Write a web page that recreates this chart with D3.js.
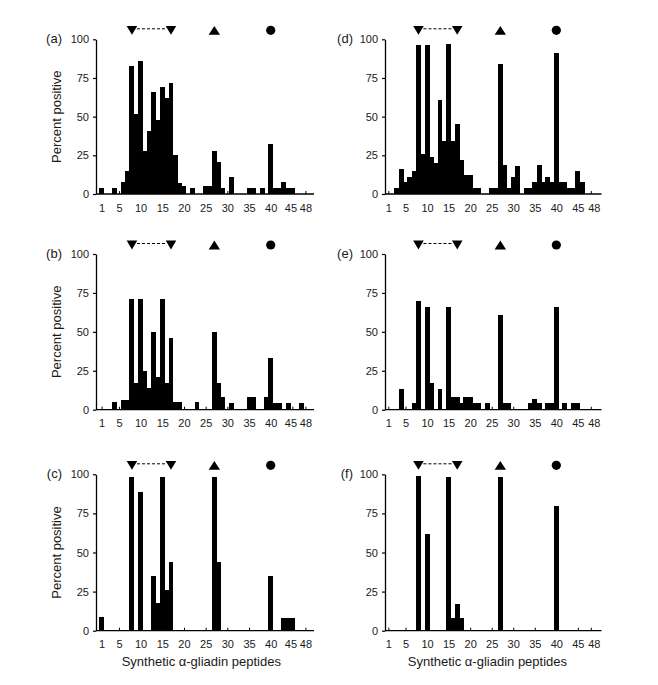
<!DOCTYPE html>
<html>
<head>
<meta charset="utf-8">
<script src="https://cdn.jsdelivr.net/npm/d3@7"></script>
<style>
  html, body { margin: 0; padding: 0; background: #fff; }
  svg { display: block; font-family: "Liberation Sans", Arial, Helvetica, sans-serif; }
  .tick text { fill: #1a1a1a; }
</style>
</head>
<body>
<svg id="chart" width="658" height="685"></svg>
<script>
// ---------- DATA ----------
const peptides = d3.range(1, 49);
const xTickValues = [1, 5, 10, 15, 20, 25, 30, 35, 40, 45, 48];
const yTickValues = [0, 25, 50, 75, 100];
const panelLabels = ["(a)", "(b)", "(c)", "(d)", "(e)", "(f)"];
const yTitle = "Percent positive";
const xTitle = "Synthetic α-gliadin peptides";
const markerDown = [8, 17];
const markerUp = [27];
const markerCircle = [40];

const valuesA = [4,0,0,4,0,8,15,83,52,86,28,41,66,48,69,62,72,25,7,5,0,4,0,0,5,5,28,21,4,0,11,0,0,0,4,4,0,4,0,32,4,4,8,4,4,0,0,0];
const valuesB = [0,0,0,5,0,6,6,71,17,71,25,14,50,21,71,17,46,5,5,0,0,0,5,0,0,0,50,17,8,0,4,0,0,0,8,8,0,0,8,33,4,4,0,4,0,0,4,0];
const valuesC = [9,0,0,0,0,0,0,98,0,89,0,0,35,18,98,26,44,0,0,0,0,0,0,0,0,0,98,44,0,0,0,0,0,0,0,0,0,0,0,35,0,0,8,8,8,0,0,0];
const valuesD = [0,0,4,16,8,11,15,96,26,96,24,20,61,34,97,34,45,22,12,12,4,4,0,0,4,4,84,19,4,11,18,0,4,4,8,19,8,11,8,91,8,8,4,4,15,8,0,0];
const valuesE = [0,0,0,13,0,0,4,70,0,66,17,0,13,0,66,8,8,4,8,8,4,4,0,4,0,0,61,4,4,0,0,0,0,4,7,4,0,4,4,66,0,4,0,4,4,0,0,0];
const valuesF = [0,0,0,0,0,0,0,99,0,62,0,0,0,0,98,8,17,8,0,0,0,0,0,0,0,0,98,0,0,0,0,0,0,0,0,0,0,0,0,80,0,0,0,0,0,0,0,0];

const panelValues = [valuesA, valuesB, valuesC, valuesD, valuesE, valuesF];

// ---------- LAYOUT ----------
const columns = [
  { axisX: 96,  x1: 101.6, x48: 305.4, lineEnd: 314,   labelRight: 62,  labelShift: {45: -2, 48: 0} },
  { axisX: 385, x1: 388.3, x48: 590.8, lineEnd: 601.5, labelRight: 353, labelShift: {45: 0, 48: 3} }
];
const rows = [
  { top: 39.3,  zero: 194 },
  { top: 254,   zero: 409.7 },
  { top: 474.3, zero: 630.7 }
];

const svg = d3.select("#chart");
const ink = "#000";
const textInk = "#1a1a1a";

panelValues.forEach((vals, i) => {
  const colIdx = Math.floor(i / 3);
  const rowIdx = i % 3;
  const col = columns[colIdx];
  const row = rows[rowIdx];

  const x = d3.scaleLinear().domain([1, 48]).range([col.x1, col.x48]);
  const y = d3.scaleLinear().domain([0, 100]).range([row.zero, row.top]);
  const bw = x(2) - x(1);

  const g = svg.append("g");

  // bars
  g.selectAll("rect.bar")
    .data(peptides.map((p, k) => ({ p, v: vals[k] })).filter(d => d.v > 0))
    .join("rect")
    .attr("class", "bar")
    .attr("x", d => x(d.p) - bw / 2 - 0.3)
    .attr("width", bw + 0.6)
    .attr("y", d => y(d.v))
    .attr("height", d => y(0) - y(d.v))
    .attr("fill", ink)
    .attr("shape-rendering", "crispEdges");

  // x axis baseline
  g.append("line")
    .attr("x1", col.axisX).attr("x2", col.lineEnd)
    .attr("y1", y(0)).attr("y2", y(0))
    .attr("stroke", ink).attr("stroke-width", 1.3);

  // x axis ticks (pointing up) + labels
  const xAxis = d3.axisBottom(x)
    .tickValues(xTickValues)
    .tickSizeInner(-3)
    .tickSizeOuter(0)
    .tickPadding(10)
    .tickFormat(d3.format("d"));
  const gx = g.append("g").attr("transform", `translate(0,${y(0)})`).call(xAxis);
  gx.select(".domain").remove();
  gx.selectAll(".tick line").attr("stroke", ink).attr("stroke-width", 1);
  gx.selectAll(".tick text")
    .attr("font-size", 11)
    .attr("font-family", "Liberation Sans, Arial, sans-serif")
    .attr("dx", d => col.labelShift[d] || 0);

  // y axis
  const yAxis = d3.axisLeft(y)
    .tickValues(yTickValues)
    .tickSizeInner(3)
    .tickSizeOuter(0)
    .tickPadding(4);
  const gy = g.append("g").attr("transform", `translate(${col.axisX},0)`).call(yAxis);
  gy.select(".domain").attr("stroke", ink).attr("stroke-width", 1.3);
  gy.selectAll(".tick line").attr("stroke", ink).attr("stroke-width", 1.2);
  gy.selectAll(".tick text").attr("font-size", 11).attr("font-family", "Liberation Sans, Arial, sans-serif");

  // panel label
  g.append("text")
    .attr("x", col.labelRight)
    .attr("y", y(100) - 1)
    .attr("dy", "0.35em")
    .attr("text-anchor", "end")
    .attr("font-size", 13)
    .attr("fill", textInk)
    .text(panelLabels[i]);

  // markers
  const my = y(100) - 9;
  g.append("line")
    .attr("x1", x(markerDown[0]) + 5)
    .attr("x2", x(markerDown[1]) - 5)
    .attr("y1", my - 1.5).attr("y2", my - 1.5)
    .attr("stroke", ink).attr("stroke-width", 1)
    .attr("stroke-dasharray", "3,2");
  g.selectAll("path.down")
    .data(markerDown).join("path")
    .attr("class", "down")
    .attr("d", p => `M${x(p) - 5.3},${my - 4.4}L${x(p) + 5.3},${my - 4.4}L${x(p)},${my + 4.4}Z`)
    .attr("fill", ink);
  g.selectAll("path.up")
    .data(markerUp).join("path")
    .attr("class", "up")
    .attr("d", p => `M${x(p) - 5.7},${my + 4.4}L${x(p) + 5.7},${my + 4.4}L${x(p)},${my - 4.4}Z`)
    .attr("fill", ink);
  g.selectAll("circle.dot")
    .data(markerCircle).join("circle")
    .attr("class", "dot")
    .attr("cx", p => x(p)).attr("cy", my).attr("r", 4.6)
    .attr("fill", ink);

  // y title (left column only)
  if (colIdx === 0) {
    const cy = (y(0) + y(100)) / 2;
    g.append("text")
      .attr("transform", `translate(61,${cy}) rotate(-90)`)
      .attr("text-anchor", "middle")
      .attr("font-size", 13)
      .attr("fill", textInk)
      .text(yTitle);
  }
  // x title (bottom row only)
  if (rowIdx === 2) {
    g.append("text")
      .attr("x", x(24))
      .attr("y", y(0) + 26)
      .attr("dy", "0.71em")
      .attr("text-anchor", "middle")
      .attr("font-size", 13)
      .attr("fill", textInk)
      .text(xTitle);
  }
});
</script>
</body>
</html>
